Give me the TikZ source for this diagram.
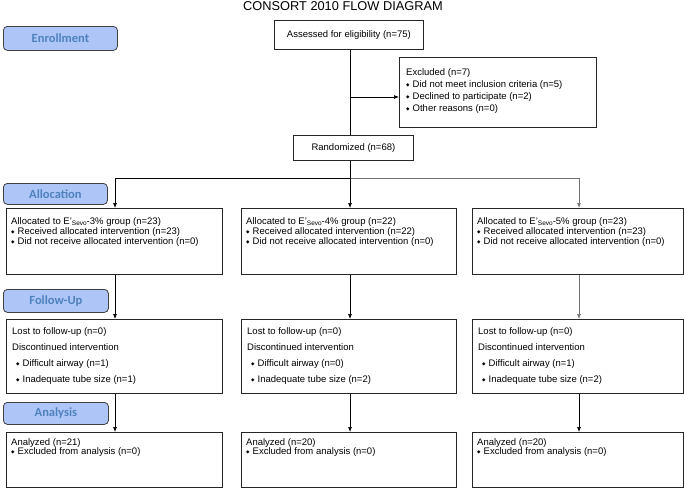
\documentclass[tikz,border=0pt]{standalone}
\usepackage{fontspec}
\setmainfont{Liberation Sans}
\newfontfamily\pillfont{Carlito}
\newfontfamily\dejavu{DejaVu Sans}
\usetikzlibrary{arrows.meta}
\definecolor{pillfill}{HTML}{ADC6F7}
\definecolor{pilltext}{HTML}{4F81BD}
\newcommand\bul{\makebox[6.5pt][l]{\raisebox{1pt}{\dejavu\fontsize{4.5}{5}\selectfont ◆}}}
\newcommand\sevo{E'\raisebox{-1.2pt}{\fontsize{6.5}{7}\selectfont Sevo}}
\begin{document}
\begin{tikzpicture}[x=1pt,y=-1pt,
  box/.style={draw=black!85,line width=0.8pt,inner sep=0,anchor=north west},
  pill/.style={draw=black!75,fill=pillfill,rounded corners=4pt,line width=0.8pt,anchor=north west,inner sep=0,
    font=\pillfont\bfseries\fontsize{12.5}{13}\selectfont,text=pilltext},
  txt/.style={inner sep=0,anchor=north west,align=left},
  arr/.style={-{Latex[length=5pt,width=4pt]},line width=0.7pt},
  ln/.style={line width=0.7pt},
  grayln/.style={draw=black!55}]
\useasboundingbox (0,0) rectangle (685,490);

% title
\node[inner sep=0,font=\fontsize{12.8}{13}\selectfont] (title) at (343,6) {CONSORT 2010 FLOW DIAGRAM};

% phase labels
\node[pill,minimum width=114pt,minimum height=24pt] (penr) at (3,26) {Enrollment};
\node[pill,minimum width=104pt,minimum height=21pt] (palloc) at (3,183) {Allocation};
\node[pill,minimum width=105pt,minimum height=23pt] (pfol) at (3,289) {Follow-Up};
\node[pill,minimum width=105pt,minimum height=22pt] (pana) at (3,402) {Analysis};

% enrollment
\node[box,minimum width=149pt,minimum height=29pt,font=\fontsize{9.5}{11}\selectfont] (assess) at (274,20) {Assessed for eligibility (n=75)};
\node[box,minimum width=197pt,minimum height=70pt] (excl) at (399,57) {};
\node[txt,font=\fontsize{9.5}{12}\selectfont] (exclt) at (406,68.5) {Excluded (n=7)\\
\bul Did not meet inclusion criteria (n=5)\\
\bul Declined to participate (n=2)\\
\bul Other reasons (n=0)};
\node[box,minimum width=120pt,minimum height=25pt,font=\fontsize{9.5}{11}\selectfont] (rand) at (293,135) {Randomized (n=68)};

% allocation boxes
\node[box,minimum width=216pt,minimum height=66pt] (a1) at (6,208) {};
\node[box,minimum width=215pt,minimum height=66pt] (a2) at (241,208) {};
\node[box,minimum width=211pt,minimum height=66pt] (a3) at (472,208) {};
\node[txt,font=\fontsize{9.5}{10.2}\selectfont] (a1t) at (11,217.5) {Allocated to \sevo-3\% group (n=23)\\
\bul Received allocated intervention (n=23)\\
\bul Did not receive allocated intervention (n=0)};
\node[txt,font=\fontsize{9.5}{10.2}\selectfont] (a2t) at (246,217.5) {Allocated to \sevo-4\% group (n=22)\\
\bul Received allocated intervention (n=22)\\
\bul Did not receive allocated intervention (n=0)};
\node[txt,font=\fontsize{9.5}{10.2}\selectfont] (a3t) at (477,217.5) {Allocated to \sevo-5\% group (n=23)\\
\bul Received allocated intervention (n=23)\\
\bul Did not receive allocated intervention (n=0)};

% follow-up boxes
\node[box,minimum width=216pt,minimum height=74pt] (f1) at (6,319) {};
\node[box,minimum width=215pt,minimum height=74pt] (f2) at (241,319) {};
\node[box,minimum width=211pt,minimum height=74pt] (f3) at (472,319) {};
\node[txt,font=\fontsize{9.5}{16}\selectfont] (f1t) at (12,327.5) {Lost to follow-up (n=0)\\
Discontinued intervention\\
\hspace{4pt}\bul Difficult airway (n=1)\\
\hspace{4pt}\bul Inadequate tube size (n=1)};
\node[txt,font=\fontsize{9.5}{16}\selectfont] (f2t) at (247,327.5) {Lost to follow-up (n=0)\\
Discontinued intervention\\
\hspace{4pt}\bul Difficult airway (n=0)\\
\hspace{4pt}\bul Inadequate tube size (n=2)};
\node[txt,font=\fontsize{9.5}{16}\selectfont] (f3t) at (478,327.5) {Lost to follow-up (n=0)\\
Discontinued intervention\\
\hspace{4pt}\bul Difficult airway (n=1)\\
\hspace{4pt}\bul Inadequate tube size (n=2)};

% analysis boxes
\node[box,minimum width=216pt,minimum height=55pt] (n1) at (6,432) {};
\node[box,minimum width=215pt,minimum height=55pt] (n2) at (241,432) {};
\node[box,minimum width=211pt,minimum height=55pt] (n3) at (472,432) {};
\node[txt,font=\fontsize{9.5}{9.8}\selectfont] (n1t) at (11,438) {Analyzed (n=21)\\
\bul Excluded from analysis (n=0)};
\node[txt,font=\fontsize{9.5}{9.8}\selectfont] (n2t) at (246,438) {Analyzed (n=20)\\
\bul Excluded from analysis (n=0)};
\node[txt,font=\fontsize{9.5}{9.8}\selectfont] (n3t) at (477,438) {Analyzed (n=20)\\
\bul Excluded from analysis (n=0)};

% connector coordinates
\coordinate (vx) at (350,0);
\coordinate (ej) at (350,97);
\coordinate (hl) at (115,178);
\coordinate (hm) at (350,178);
\coordinate (hr) at (579,178);

% connectors
\draw[ln] (assess.south -| vx) -- (rand.north -| vx);
\draw[arr] (ej) -- (ej -| excl.west);
\draw[ln] (rand.south -| vx) -- (hm);
\draw[ln] (hl) -- (hm);
\draw[ln,grayln] (hm) -- (hr);
\draw[arr] (hl) -- (hl |- a1.north);
\draw[arr] (hm) -- (hm |- a2.north);
\draw[arr,grayln] (hr) -- (hr |- a3.north);
\draw[arr] (hl |- a1.south) -- (hl |- f1.north);
\draw[arr] (hm |- a2.south) -- (hm |- f2.north);
\draw[arr,grayln] (hr |- a3.south) -- (hr |- f3.north);
\draw[arr] (hl |- f1.south) -- (hl |- n1.north);
\draw[arr] (hm |- f2.south) -- (hm |- n2.north);
\draw[arr] (hr |- f3.south) -- (hr |- n3.north);
\end{tikzpicture}
\end{document}
